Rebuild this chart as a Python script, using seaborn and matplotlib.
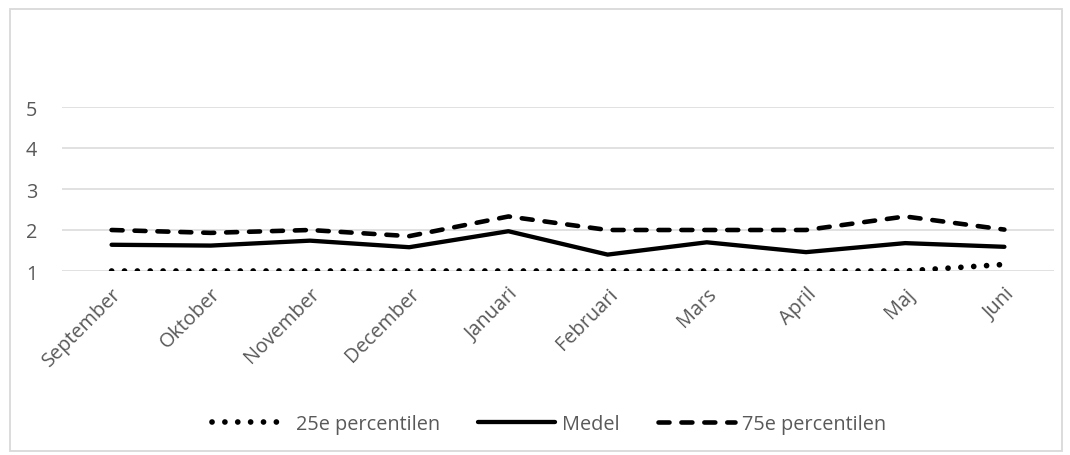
import matplotlib
matplotlib.use("Agg")
import matplotlib.pyplot as plt
from matplotlib.patches import Rectangle
import pandas as pd
import seaborn as sns

months = ["September", "Oktober", "November", "December", "Januari",
          "Februari", "Mars", "April", "Maj", "Juni"]
p25 = [1.0, 1.0, 1.0, 1.0, 1.0, 1.0, 1.0, 1.0, 1.0, 1.16]
medel = [1.64, 1.62, 1.74, 1.58, 1.97, 1.40, 1.70, 1.46, 1.68, 1.59]
p75 = [2.0, 1.93, 2.0, 1.85, 2.33, 2.0, 2.0, 2.0, 2.33, 2.01]
series_names = ["25e percentilen", "Medel", "75e percentilen"]
y_ticks = [1, 2, 3, 4, 5]

sns.set_theme(style="white")
plt.rcParams["font.family"] = ["Open Sans", "DejaVu Sans"]
text_color = "#595959"
grid_color = "#d9d9d9"
fs = 14.3

df = pd.DataFrame({
    "Månad": months * 3,
    "Värde": p25 + medel + p75,
    "Serie": [series_names[0]] * 10 + [series_names[1]] * 10 + [series_names[2]] * 10,
})

fig = plt.figure(figsize=(10.7, 4.56), dpi=100)
ax = fig.add_axes([62 / 1070, (456 - 272) / 456, (1054 - 62) / 1070, (272 - 108) / 456])

# line style and width per series: dotted, solid, dashed
styles = {
    series_names[0]: ((0, (0.01, 2.25)), 4.1),
    series_names[1]: ("-", 3.1),
    series_names[2]: ((0, (2.4, 2.6)), 3.3),
}
for name in series_names:
    sub = df[df["Serie"] == name]
    ls, lw = styles[name]
    sns.lineplot(data=sub, x="Månad", y="Värde", ax=ax, color="black", lw=lw,
                 linestyle=ls, sort=False, label=name,
                 dash_capstyle="round", solid_capstyle="round")

ax.set_xlim(-0.5, len(months) - 0.5)
ax.set_ylim(1, 5)
ax.set_yticks(y_ticks)
ax.set_yticklabels([str(t) for t in y_ticks])
ax.set_xticks(range(len(months)))
ax.set_xticklabels(months, rotation=45, ha="right", rotation_mode="anchor")
ax.tick_params(axis="y", length=0, pad=18, labelsize=fs, labelcolor=text_color)
ax.tick_params(axis="x", length=0, pad=9, labelsize=fs, labelcolor=text_color)
ax.yaxis.grid(True, color=grid_color, lw=1.1)
ax.set_axisbelow(True)
for s in ax.spines.values():
    s.set_visible(False)
ax.set_xlabel("")
ax.set_ylabel("")

ax.get_legend().remove()
handles, labels = ax.get_legend_handles_labels()
leg = fig.legend(handles, labels, loc="center", bbox_to_anchor=(549 / 1070, 1 - 425 / 456),
                 ncol=3, frameon=False, fontsize=fs, handlelength=3.9,
                 columnspacing=1.9, handletextpad=0.35)
for t in leg.get_texts():
    t.set_color(text_color)

# light frame around the whole chart
fig.patches.append(Rectangle((9.5 / 1070, 4 / 456), (1062 - 9.5) / 1070, (446.5 - 4) / 456,
                             transform=fig.transFigure, fill=False,
                             edgecolor=grid_color, lw=1.3))

fig.savefig("out.png", dpi=100)
